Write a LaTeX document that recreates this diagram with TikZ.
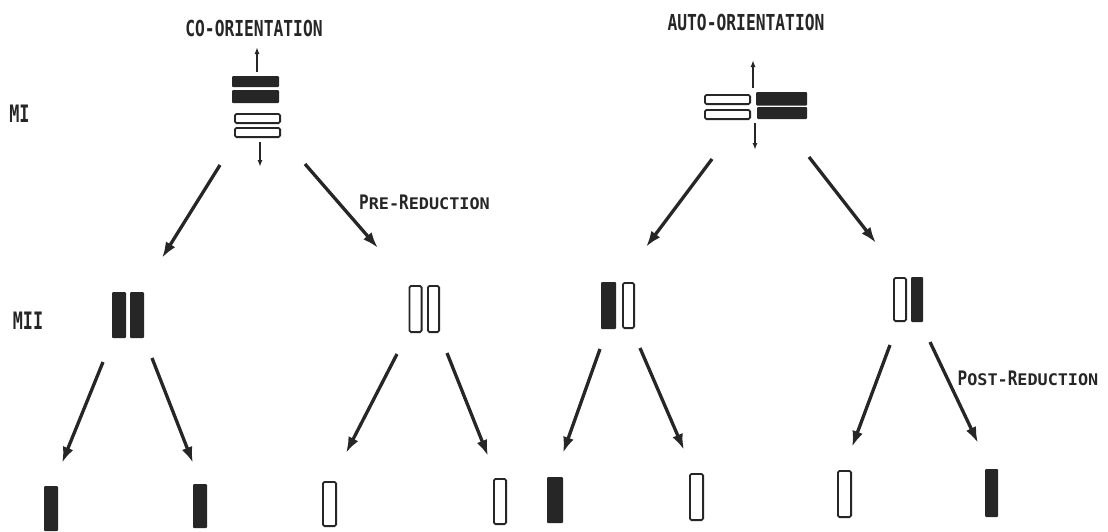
\documentclass[tikz,border=0pt]{standalone}
\usepackage{fontspec}
\usetikzlibrary{arrows.meta}
\newfontfamily\pf[FakeStretch=0.74]{DejaVu Sans Mono}
\newfontfamily\pfl[FakeStretch=0.7]{DejaVu Sans Mono}
\newfontfamily\pfb[FakeStretch=0.8]{DejaVu Sans Mono}
\newfontfamily\pfs[FakeStretch=1.05]{DejaVu Sans Mono}
\definecolor{ink}{HTML}{262626}
\newcommand{\bigc}[1]{{\pfb\bfseries\fontsize{20}{20}\selectfont #1}}
\newcommand{\smc}[1]{{\pfs\bfseries\fontsize{16}{16}\selectfont #1}}
\begin{document}
\begin{tikzpicture}[x=1pt,y=-1pt,
  blk/.style={fill=ink,draw=none,inner sep=0pt,rounded corners=1pt},
  wht/.style={draw=ink,line width=1.8pt,fill=white,inner sep=0pt,rounded corners=1.5pt},
  bigarrow/.style={draw=ink,line width=3.3pt,-{Latex[length=16pt,width=11pt]}},
  thinarrow/.style={draw=ink,line width=1.5pt,-{Latex[length=7pt,width=5pt]}},
  title/.style={text=ink,inner sep=0pt,font=\pf\bfseries\fontsize{22}{22}\selectfont},
  lab/.style={text=ink,inner sep=0pt,font=\pfl\bfseries\fontsize{24}{24}\selectfont},
  note/.style={text=ink,inner sep=0pt}]
\useasboundingbox[fill=white] (0,0) rectangle (1108,531);

% titles and labels
\node[title] (tco) at (254,28.5) {CO-ORIENTATION};
\node[title] (tau) at (746,22) {AUTO-ORIENTATION};
\node[lab] (lmi) at (19.5,114) {MI};
\node[lab] (lmii) at (28,320.5) {MII};
\node[note] (tpre) at (424.5,202) {\bigc{P}\smc{RE-}\bigc{R}\smc{EDUCTION}};
\node[note] (tpost) at (1028,378) {\bigc{P}\smc{OST-}\bigc{R}\smc{EDUCTION}};

% MI co-orientation
\node[blk,minimum width=47pt,minimum height=11pt] (cb1) at (255.5,81.5) {};
\node[blk,minimum width=47pt,minimum height=13pt] (cb2) at (255.5,96.5) {};
\node[wht,minimum width=45.2pt,minimum height=9.2pt] (cw1) at (257.5,118.5) {};
\node[wht,minimum width=45.2pt,minimum height=9.2pt] (cw2) at (257.5,132.5) {};
\coordinate (cup0) at (257,72); \coordinate (cup1) at (257,47);
\coordinate (cdn0) at (260,142); \coordinate (cdn1) at (260,167);
\draw[thinarrow] (cup0) -- (cup1);
\draw[thinarrow] (cdn0) -- (cdn1);

% MI auto-orientation
\node[wht,minimum width=45.2pt,minimum height=9.2pt] (aw1) at (727.5,99.5) {};
\node[wht,minimum width=45.2pt,minimum height=9.2pt] (aw2) at (727.5,114.5) {};
\node[blk,minimum width=51pt,minimum height=13.5pt] (ab1) at (781.5,98.75) {};
\node[blk,minimum width=50pt,minimum height=12pt] (ab2) at (782,113) {};
\coordinate (aup0) at (753,88); \coordinate (aup1) at (753,60);
\coordinate (adn0) at (755,123); \coordinate (adn1) at (755,150);
\draw[thinarrow] (aup0) -- (aup1);
\draw[thinarrow] (adn0) -- (adn1);

% MII
\node[blk,minimum width=14pt,minimum height=46pt] (m1a) at (119,315) {};
\node[blk,minimum width=14pt,minimum height=46pt] (m1b) at (137,315) {};
\node[wht,minimum width=12.2pt,minimum height=46.2pt] (m2a) at (415.5,309) {};
\node[wht,minimum width=11.2pt,minimum height=46.2pt] (m2b) at (433.5,309) {};
\node[blk,minimum width=15pt,minimum height=47pt] (m3a) at (608.5,305.5) {};
\node[wht,minimum width=11.2pt,minimum height=45.2pt] (m3b) at (628.5,305.5) {};
\node[wht,minimum width=12.2pt,minimum height=43.2pt] (m4a) at (900,299.5) {};
\node[blk,minimum width=12pt,minimum height=45pt] (m4b) at (917,299.5) {};

% final products
\node[blk,minimum width=14pt,minimum height=45pt] (f1) at (51,508.5) {};
\node[blk,minimum width=14pt,minimum height=44pt] (f2) at (200,506) {};
\node[wht,minimum width=13.2pt,minimum height=44.2pt] (f3) at (329.5,504) {};
\node[wht,minimum width=12.2pt,minimum height=45.2pt] (f4) at (500,501.5) {};
\node[blk,minimum width=16pt,minimum height=46pt] (f5) at (555,500) {};
\node[wht,minimum width=13.2pt,minimum height=46.2pt] (f6) at (696.5,497) {};
\node[wht,minimum width=13.2pt,minimum height=46.2pt] (f7) at (844.5,494) {};
\node[blk,minimum width=13pt,minimum height=48pt] (f8) at (991.5,493) {};

% arrow end points
\coordinate (s1) at (220,165);  \coordinate (e1) at (162,258);
\coordinate (s2) at (305,164);  \coordinate (e2) at (378,248);
\coordinate (s3) at (712,159);  \coordinate (e3) at (646,247);
\coordinate (s4) at (809,157);  \coordinate (e4) at (876,243);
\coordinate (s5) at (103,362);  \coordinate (e5) at (62,463);
\coordinate (s6) at (152,358);  \coordinate (e6) at (193,463);
\coordinate (s7) at (397,354);  \coordinate (e7) at (346,453);
\coordinate (s8) at (447,353);  \coordinate (e8) at (488,456);
\coordinate (s9) at (600,349);  \coordinate (e9) at (563,453);
\coordinate (s10) at (640,348); \coordinate (e10) at (684,450);
\coordinate (s11) at (890,345); \coordinate (e11) at (852,447);
\coordinate (s12) at (930,342); \coordinate (e12) at (978,443);

\foreach \i in {1,...,12} { \draw[bigarrow] (s\i) -- (e\i); }
\end{tikzpicture}
\end{document}
